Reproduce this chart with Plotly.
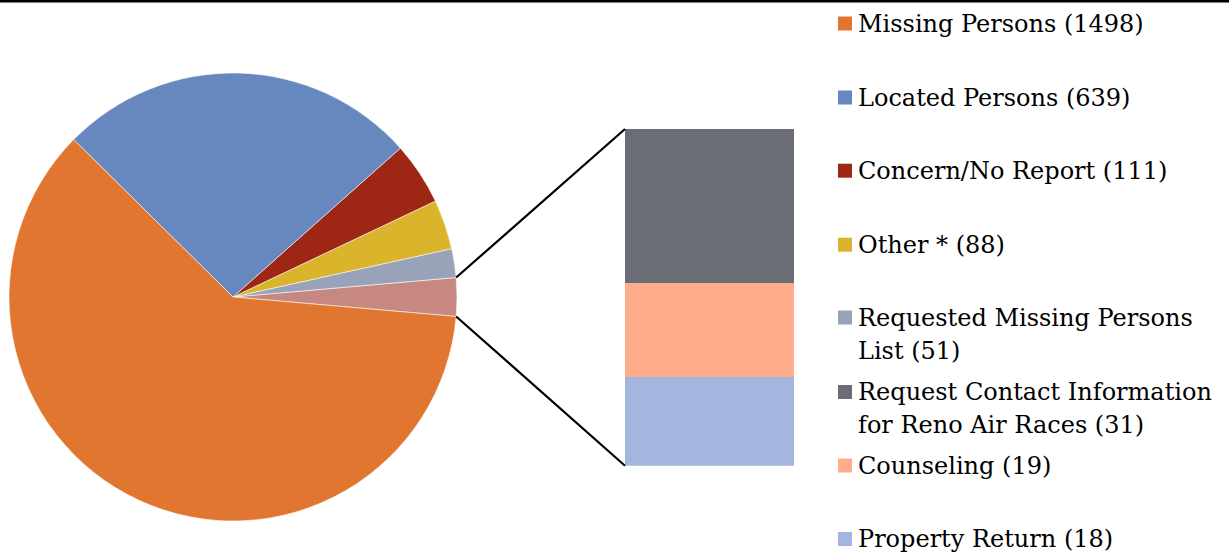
import math
import plotly.graph_objects as go

W, H = 1229, 554

# ---- data ----
pie_labels = ["Other (grouped)", "Requested Missing Persons List", "Other *",
              "Concern/No Report", "Located Persons", "Missing Persons"]
pie_values = [68, 51, 88, 111, 639, 1498]
pie_colors = ["#C88882", "#98A2B9", "#DAB42B", "#9E2614", "#6787BF", "#E07630"]

bar_labels = ["Property Return", "Counseling", "Request Contact Information for Reno Air Races"]
bar_values = [18, 19, 31]
bar_colors = ["#A4B6E0", "#FEAC8C", "#6A6D75"]

legend_lines = [
    ["Missing Persons (1498)"],
    ["Located Persons (639)"],
    ["Concern/No Report (111)"],
    ["Other * (88)"],
    ["Requested Missing Persons", "List (51)"],
    ["Request Contact Information", "for Reno Air Races (31)"],
    ["Counseling (19)"],
    ["Property Return (18)"],
]
legend_colors = ["#E07630", "#6787BF", "#9E2614", "#DAB42B", "#98A2B9",
                 "#6A6D75", "#FEAC8C", "#A4B6E0"]
legend_centers_px = [23.5, 97.5, 170.7, 244.7, 317.5, 392, 465.5, 539]

FONT = "DejaVu Serif"
FS = 24
LINE_H = 33

# ---- layout geometry (pixels) ----
cx, cy, r = 233, 297, 224
bar_x0, bar_x1 = 625, 794
bar_top, bar_bot = 129, 465.7

total = sum(pie_values)
half = pie_values[0] / total * 180.0

fig = go.Figure()
fig.add_trace(go.Pie(
    labels=pie_labels, values=pie_values, sort=False,
    direction="counterclockwise", rotation=90 - half,
    marker=dict(colors=pie_colors, line=dict(color="rgba(255,255,255,0.8)", width=0.7)),
    textinfo="none", hoverinfo="label+value", showlegend=False,
    domain=dict(x=[(cx - r) / W, (cx + r) / W], y=[1 - (cy + r) / H, 1 - (cy - r) / H]),
))

for lab, val, col in zip(bar_labels, bar_values, bar_colors):
    fig.add_trace(go.Bar(x=[0], y=[val], name=lab, marker=dict(color=col, line=dict(width=0)),
                         width=1, showlegend=False, xaxis="x", yaxis="y"))

# connector lines from pie edge to bar corners
a = math.radians(half)
p_top = (cx + r * math.cos(a), cy - r * math.sin(a))
p_bot = (cx + r * math.cos(a), cy + r * math.sin(a))
shapes = []
for (px, py), (qx, qy) in [(p_top, (bar_x0, bar_top)), (p_bot, (bar_x0, bar_bot))]:
    shapes.append(dict(type="line", xref="paper", yref="paper",
                       x0=px / W, y0=1 - py / H, x1=qx / W, y1=1 - qy / H,
                       line=dict(color="black", width=2.2)))

# top rule
shapes.append(dict(type="rect", xref="paper", yref="paper", x0=0, x1=1,
                   y0=1 - 2.5 / H, y1=1, fillcolor="black", line=dict(width=0)))

annotations = []
for lines, col, yc in zip(legend_lines, legend_colors, legend_centers_px):
    shapes.append(dict(type="rect", xref="paper", yref="paper",
                       x0=838 / W, x1=852 / W, y0=1 - (yc + 7) / H, y1=1 - (yc - 7) / H,
                       fillcolor=col, line=dict(width=0)))
    for i, t in enumerate(lines):
        annotations.append(dict(text=t, xref="paper", yref="paper",
                                x=856 / W, y=1 - (yc + i * LINE_H) / H,
                                xanchor="left", yanchor="middle", showarrow=False,
                                font=dict(family=FONT, size=FS, color="black")))

fig.update_layout(
    width=W, height=H, margin=dict(l=0, r=0, t=0, b=0),
    paper_bgcolor="white", plot_bgcolor="rgba(0,0,0,0)",
    barmode="stack", bargap=0,
    xaxis=dict(domain=[bar_x0 / W, bar_x1 / W], range=[-0.5, 0.5], visible=False, fixedrange=True),
    yaxis=dict(domain=[1 - bar_bot / H, 1 - bar_top / H], range=[0, sum(bar_values)],
               visible=False, fixedrange=True),
    shapes=shapes, annotations=annotations,
)

fig.write_html("out.html", config={"displayModeBar": False},
               post_script="document.body.style.margin='0';document.body.style.overflow='hidden';")
